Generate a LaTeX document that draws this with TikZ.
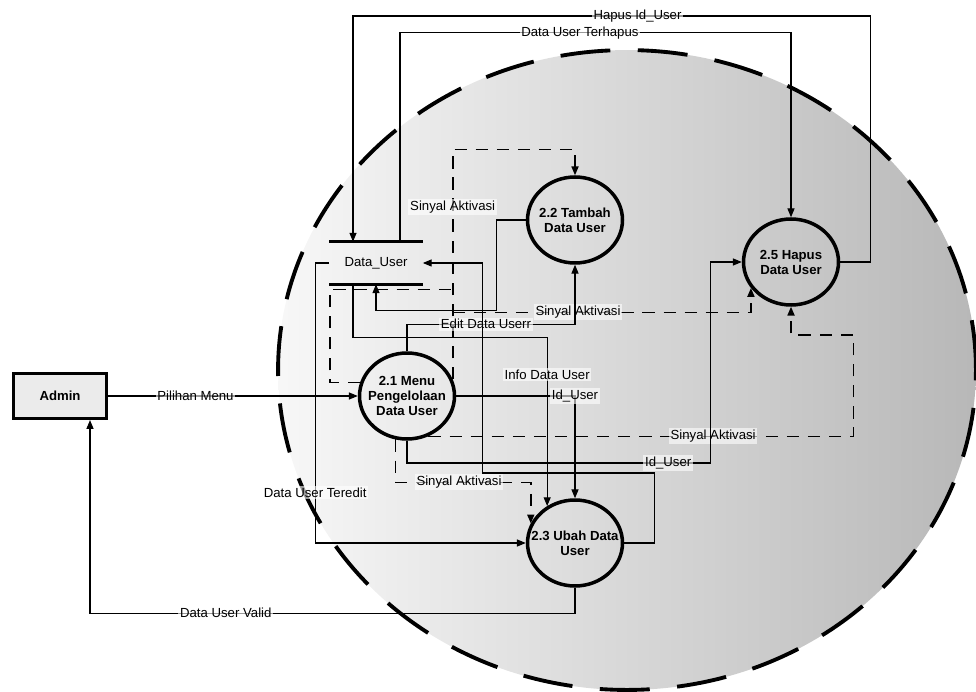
\documentclass[tikz,border=0pt]{standalone}
\usepackage{fontspec}
\setmainfont{Liberation Sans}
\usetikzlibrary{shapes.geometric,arrows.meta,calc}
\begin{document}
\begin{tikzpicture}[x=0.02cm,y=-0.02cm,font=\fontsize{7.5}{8.5}\selectfont,
  flow/.style={line width=0.6pt},
  ctrl/.style={line width=0.9pt,dash pattern=on 7pt off 5pt},
  arr/.style={-{Triangle[length=5pt,width=4pt]}},
  proc/.style={ellipse,draw,line width=2pt,minimum width=1.9cm,minimum height=1.72cm,inner xsep=-8pt,inner ysep=0pt,align=center,font=\fontsize{7.5}{8.5}\selectfont\bfseries},
  ent/.style={draw,line width=1.8pt,fill=black!8,minimum width=1.86cm,minimum height=0.9cm,inner sep=0pt,font=\fontsize{7.5}{8.5}\selectfont\bfseries},
  datastore/.style={minimum width=1.86cm,minimum height=0.84cm,inner sep=0pt},
  lbl/.style={fill=white,fill opacity=0.6,text opacity=1,inner sep=1pt}]
\useasboundingbox (0,0) rectangle (976,692);
\shade[left color=black!3,right color=black!28] (627,370) ellipse [x radius=6.98cm,y radius=6.4cm];
\draw[line width=2.2pt,dash pattern=on 1cm off 0.55cm] (627,370) ellipse [x radius=6.98cm,y radius=6.4cm];
\node[ent] (admin) at (60,396) {Admin};
\node[proc] (p21) at (407,396) {2.1 Menu\\Pengelolaan\\Data User};
\node[proc] (p22) at (575,220) {2.2 Tambah\\Data User};
\node[proc] (p25) at (791,262) {2.5 Hapus\\Data User};
\node[proc] (p23) at (575,543) {2.3 Ubah Data\\User};
\node[datastore] (du) at (376,263) {Data\_User};
\draw[line width=1.6pt] (du.north west) -- (du.north east) (du.south west) -- (du.south east);
\draw[flow,arr] (admin.east) -- node[lbl,pos=0.35]{Pilihan Menu} (p21.west);
\draw[flow,arr] (p23.south) |- node[lbl,pos=0.86]{Data User Valid} ($(admin.south)+(30,193)$) -- ($(admin.south)+(30,0)$);
\draw[flow,arr] (p25.east) -- ++(30,0) -- ++(0,-246) -| node[lbl,pos=0.225]{Hapus Id\_User} ($(du.north)+(-23,0)$);
\draw[flow,arr] ($(du.north)+(24,0)$) -- ++(0,-209) -| node[lbl,pos=0.23]{Data User Terhapus} (p25.north);
\draw[ctrl,arr] (p21.20) -- node[lbl,pos=0.75]{Sinyal Aktivasi} ++(0,-230) -| (p22.north);
\draw[ctrl,arr] ($(p21.20)+(0,-67)$) -| node[lbl,pos=0.21]{Sinyal Aktivasi} (p25.-147);
\draw[ctrl,arr] (p21.-62) -- node[lbl,pos=0.67]{Sinyal Aktivasi} ++(425,0) |- ($(p25.south)+(0,28)$) -- (p25.south);
\draw[ctrl,arr] (p21.-105) |- node[lbl,pos=0.735]{Sinyal Aktivasi} ($(p23.156)+(0,-41)$) -- (p23.156);
\draw[ctrl] (p21.164) -- ++(-30,0) |- ($(p21.20)+(0,-90)$);
\draw[flow,arr] (p22.west) -- ++(-29,0) |- ($(du.south)+(0,26)$) -- (du.south);
\draw[flow,arr] ($(du.south)+(-23,0)$) -- ++(0,53) -| node[lbl,pos=0.61]{Info Data User} (p23.127);
\draw[flow,arr] (p21.east) -| node[lbl]{Id\_User} (p23.north);
\draw[flow,arr] (p21.north) -- ++(0,-27) -| node[lbl,pos=0.235]{Edit Data Userr} (p22.south);
\draw[flow,arr] (du.west) -- ++(-14,0) |- node[lbl,pos=0.41]{Data User Teredit} (p23.west);
\draw[flow,arr] (p23.east) -- ++(30,0) |- ($(du.east)+(60,210)$) |- (du.east);
\draw[flow,arr] (p21.south) |- node[lbl,pos=0.93]{Id\_User} ($(p25.west)+(-31,201)$) |- (p25.west);
\end{tikzpicture}
\end{document}
